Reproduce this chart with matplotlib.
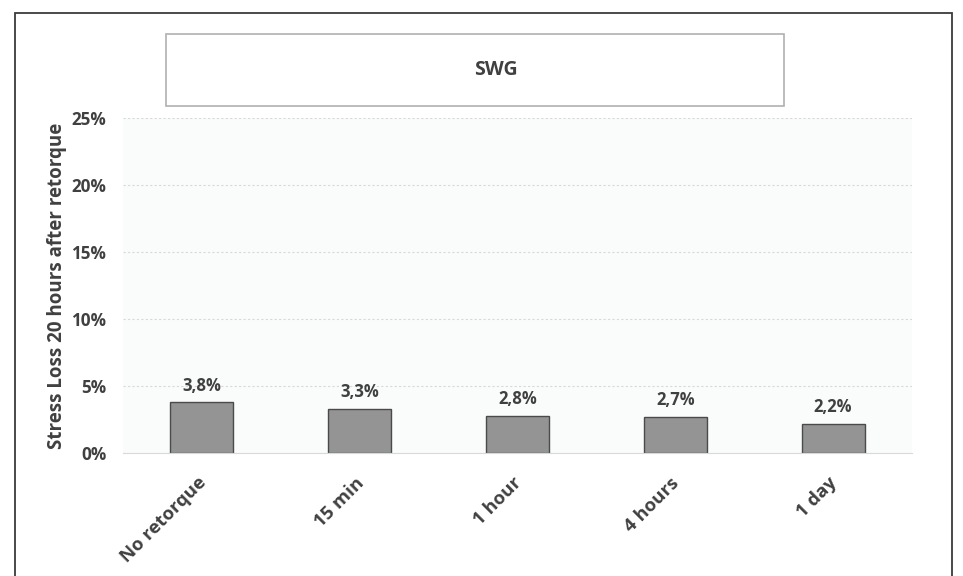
import matplotlib.pyplot as plt
from matplotlib.patches import Rectangle
from matplotlib.ticker import FuncFormatter
from matplotlib.transforms import ScaledTranslation

categories = ["No retorque", "15 min", "1 hour", "4 hours", "1 day"]
stress_loss = [3.8, 3.3, 2.8, 2.7, 2.2]
y_ticks = [0, 5, 10, 15, 20, 25]

TEXT = "#404040"
plt.rcParams["font.family"] = ["Open Sans", "DejaVu Sans"]
plt.rcParams["font.weight"] = "bold"

fig = plt.figure(figsize=(9.63, 5.76), dpi=100)

# outer frame, open at the bottom edge
fig.patches.append(Rectangle((15 / 963, -0.05), 937 / 963, 1.05 - 13 / 576,
                             transform=fig.transFigure, fill=False,
                             edgecolor="#3a3a3a", linewidth=1.3))

# title box
fig.patches.append(Rectangle((0.1724, 0.816), 0.6417, 0.125,
                             transform=fig.transFigure, facecolor="white",
                             edgecolor="#b0b0b0", linewidth=1.2))
fig.text(0.515, 0.878, "SWG", ha="center", va="center", fontsize=14,
         fontweight="bold", color=TEXT)

ax = fig.add_axes([0.1277, 0.2135, 0.8193, 0.5816])
ax.set_facecolor("#fafbfb")
x = range(len(categories))
bars = ax.bar(x, stress_loss, width=0.4, color="#949494",
              edgecolor="#4a4a4a", linewidth=1.0, zorder=3)
for bar, value in zip(bars, stress_loss):
    ax.text(bar.get_x() + bar.get_width() / 2, value + 0.55,
            f"{value:.1f}%".replace(".", ","), ha="center", va="bottom",
            fontsize=12, fontweight="bold", color=TEXT)

ax.set_xlim(-0.5, len(categories) - 0.5)
ax.set_ylim(0, 25)
ax.set_yticks(y_ticks)
ax.yaxis.set_major_formatter(FuncFormatter(lambda v, _: f"{v:.0f}%"))
ax.set_xticks(list(x))
ax.set_xticklabels(categories, rotation=45, ha="right", rotation_mode="anchor")
ax.tick_params(length=0, labelsize=12.3, labelcolor=TEXT)
ax.tick_params(axis="x", pad=15, labelsize=13.3)
ax.tick_params(axis="y", pad=12)
shift = ScaledTranslation(-5 / 100, 0, fig.dpi_scale_trans)
for label in ax.get_xticklabels():
    label.set_transform(label.get_transform() + shift)
for label in ax.get_xticklabels() + ax.get_yticklabels():
    label.set_fontweight("bold")

ax.grid(axis="y", color="#d8d8d8", linestyle=(0, (2, 2)), linewidth=0.8, zorder=0)
for side in ("top", "right", "left"):
    ax.spines[side].set_visible(False)
ax.spines["bottom"].set_color("#d9d9d9")
ax.spines["bottom"].set_zorder(4)

ax.set_ylabel("Stress Loss 20 hours after retorque", fontsize=13.5,
              fontweight="bold", color=TEXT)
ax.yaxis.set_label_coords(-0.071, 0.5)

fig.savefig("out.png", dpi=100)
